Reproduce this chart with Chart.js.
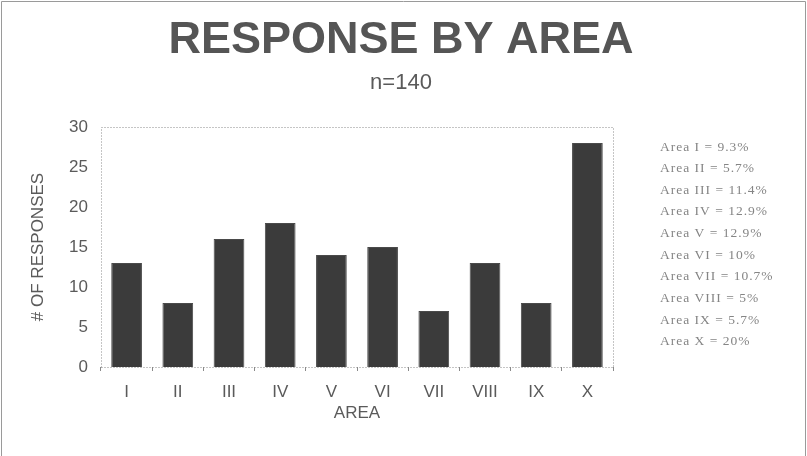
<!DOCTYPE html>
<html>
<head>
<meta charset="utf-8">
<script src="https://cdn.jsdelivr.net/npm/chart.js@4/dist/chart.umd.min.js"></script>
<style>
  html, body { margin: 0; padding: 0; background: #ffffff; }
  #wrap { width: 807px; height: 456px; position: relative; }
</style>
</head>
<body>
<div id="wrap"><canvas id="chart" width="807" height="456"></canvas></div>
<script>
// Responses per area (n = 140)
const areas = ['I', 'II', 'III', 'IV', 'V', 'VI', 'VII', 'VIII', 'IX', 'X'];
const responses = [13, 8, 16, 18, 14, 15, 7, 13, 8, 28];
// Share notes printed beside the plot
const shareNotes = [
  'Area I = 9.3%', 'Area II = 5.7%', 'Area III = 11.4%', 'Area IV = 12.9%',
  'Area V = 12.9%', 'Area VI = 10%', 'Area VII = 10.7%', 'Area VIII = 5%',
  'Area IX = 5.7%', 'Area X = 20%'
];
const yTicks = [0, 5, 10, 15, 20, 25, 30];
const chartTitle = 'RESPONSE BY AREA';
const chartSubtitle = 'n=140';

const AXIS_GREY = '#5a5a5a';
const SANS = '"Liberation Sans", Arial, sans-serif';

// Headings centred on the page, dotted plot frame, page border and note column
const decorations = {
  id: 'decorations',
  beforeDatasetsDraw(chart) {
    const { ctx, chartArea: a } = chart;
    ctx.save();
    ctx.strokeStyle = '#8a8a8a';
    ctx.lineWidth = 1;
    ctx.setLineDash([1, 2]);
    ctx.beginPath();
    ctx.moveTo(a.left + 0.5, a.bottom + 0.5);
    ctx.lineTo(a.left + 0.5, a.top + 0.5);
    ctx.lineTo(a.right + 0.5, a.top + 0.5);
    ctx.lineTo(a.right + 0.5, a.bottom + 0.5);
    ctx.lineTo(a.left + 0.5, a.bottom + 0.5);
    ctx.stroke();
    ctx.restore();
  },
  afterDraw(chart) {
    const { ctx, chartArea: a, width, height } = chart;
    ctx.save();
    // page border
    ctx.strokeStyle = '#9a9a9a';
    ctx.lineWidth = 1;
    ctx.beginPath();
    ctx.moveTo(1.5, height);
    ctx.lineTo(1.5, 1.5);
    ctx.lineTo(width - 1.5, 1.5);
    ctx.lineTo(width - 1.5, height);
    ctx.stroke();

    // headings
    ctx.textAlign = 'center';
    ctx.textBaseline = 'middle';
    ctx.fillStyle = '#555555';
    ctx.font = 'bold 45px ' + SANS;
    ctx.fillText(chartTitle, 401, 41);
    ctx.fillStyle = '#5a5a5a';
    ctx.font = '22px ' + SANS;
    ctx.fillText(chartSubtitle, 401, 83);

    // share notes
    ctx.fillStyle = '#858585';
    ctx.font = '13.5px "Liberation Serif", "DejaVu Serif", serif';
    ctx.letterSpacing = '1px';
    ctx.textAlign = 'left';
    const x0 = a.right + 47;
    const y0 = a.top + 20;
    const step = 21.65;
    shareNotes.forEach((t, i) => ctx.fillText(t, x0, y0 + i * step));
    ctx.restore();
  }
};

new Chart(document.getElementById('chart'), {
  type: 'bar',
  data: {
    labels: areas,
    datasets: [{
      label: '# OF RESPONSES',
      data: responses,
      backgroundColor: '#3b3b3b',
      borderColor: '#4a4a4a',
      borderWidth: 1,
      barPercentage: 0.6,
      categoryPercentage: 1.0
    }]
  },
  options: {
    responsive: false,
    animation: false,
    devicePixelRatio: 1,
    layout: { padding: { left: 20, right: 194, top: 127, bottom: 32 } },
    plugins: {
      legend: { display: false },
      tooltip: { enabled: false },
      title: { display: false }
    },
    scales: {
      x: {
        grid: { display: true, drawOnChartArea: false, tickLength: 4, color: '#8a8a8a' },
        border: { display: false },
        ticks: {
          color: AXIS_GREY,
          font: { family: SANS, size: 17 },
          padding: 11
        },
        title: {
          display: true,
          text: 'AREA',
          color: AXIS_GREY,
          font: { family: SANS, size: 17 },
          padding: { top: 0, bottom: 0 }
        },
        afterFit(scale) { scale.height = 57; }
      },
      y: {
        min: 0,
        max: 30,
        afterBuildTicks(scale) { scale.ticks = yTicks.map(v => ({ value: v })); },
        grid: { display: false, drawTicks: false },
        border: { display: false },
        ticks: {
          color: AXIS_GREY,
          font: { family: SANS, size: 17 },
          padding: 13
        },
        title: {
          display: true,
          text: '# OF RESPONSES',
          color: AXIS_GREY,
          font: { family: SANS, size: 17 },
          padding: { top: 8, bottom: 0 }
        },
        afterFit(scale) { scale.width = 81; }
      }
    }
  },
  plugins: [decorations]
});
</script>
</body>
</html>
